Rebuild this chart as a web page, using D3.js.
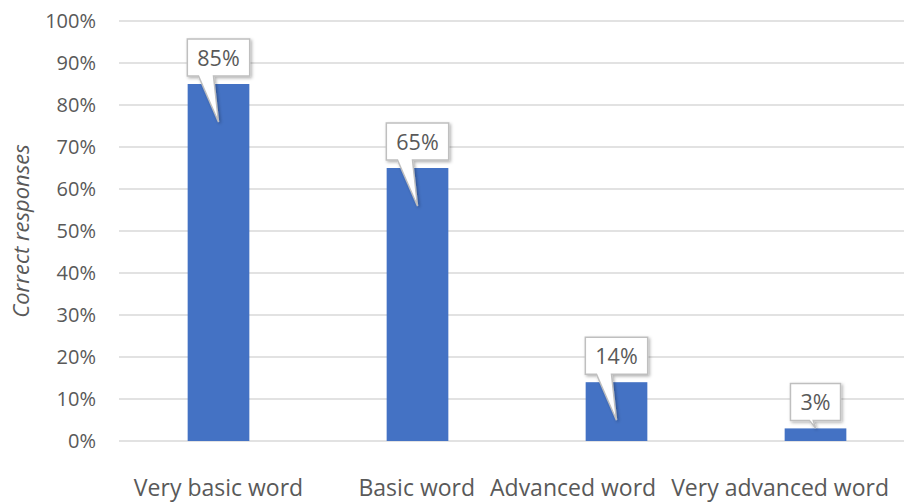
<!DOCTYPE html>
<html><head><meta charset="utf-8">
<script src="https://cdn.jsdelivr.net/npm/d3@7"></script>
<style>
html,body{margin:0;padding:0;background:#fff;}
svg{display:block;}
text{font-family:"Open Sans","Liberation Sans",sans-serif;fill:#595959;}
</style></head>
<body>
<svg id="chart" width="904" height="503"></svg>
<script>
const categories = ["Very basic word","Basic word","Advanced word","Very advanced word"];
const values = [0.85, 0.65, 0.14, 0.03];
const labels = ["85%","65%","14%","3%"];
const yTicks = [0,0.1,0.2,0.3,0.4,0.5,0.6,0.7,0.8,0.9,1.0];
const yTitle = "Correct responses";

const W = 904, H = 503;
const m = {left:119, right:-11, top:21, bottom:62};
const FONT = '"Open Sans","Liberation Sans",sans-serif';
const svg = d3.select("#chart");
const x = d3.scaleBand().domain(categories).range([m.left, W - m.right]).paddingInner(0.69).paddingOuter(0.345);
const y = d3.scaleLinear().domain([0,1]).range([H - m.bottom, m.top]);

// gridlines
svg.append("g").selectAll("line").data(yTicks).join("line")
  .attr("x1", m.left).attr("x2", W)
  .attr("y1", d => y(d)).attr("y2", d => y(d))
  .attr("stroke", "#d9d9d9").attr("stroke-width", 1.5);

// y axis labels
const yAxis = d3.axisLeft(y).tickValues(yTicks).tickFormat(d3.format(".0%")).tickSize(0).tickPadding(0);
const ya = svg.append("g").attr("transform", `translate(96,0)`).call(yAxis);
ya.select(".domain").remove();
ya.selectAll("text").attr("font-size", 20).attr("fill","#595959").style("font-family", FONT);

// axis title
svg.append("text").attr("transform", `translate(29,${(y(0)+y(1))/2}) rotate(-90)`)
  .attr("text-anchor","middle").attr("font-size",22).attr("font-style","italic").text(yTitle);

// bars
svg.append("g").selectAll("rect").data(values).join("rect")
  .attr("x", (d,i) => x(categories[i])).attr("width", x.bandwidth())
  .attr("y", d => y(d)).attr("height", d => y(0) - y(d))
  .attr("fill", "#4472c4");

// category labels, with overlap resolution
const catG = svg.append("g");
const catT = catG.selectAll("text").data(categories).join("text")
  .attr("y", 496).attr("text-anchor","middle").attr("font-size",23).text(d => d);
const widths = catT.nodes().map(n => n.getComputedTextLength());
let cx = categories.map(c => x(c) + x.bandwidth()/2);
const gap = 15, rightLimit = 889;
for (let it = 0; it < 300; it++) {
  if (cx[3] + widths[3]/2 > rightLimit) cx[3] = rightLimit - widths[3]/2;
  for (let i = 0; i < 3; i++) {
    const ov = (cx[i] + widths[i]/2 + gap) - (cx[i+1] - widths[i+1]/2);
    if (ov > 0) { cx[i] -= ov/2; cx[i+1] += ov/2; }
  }
}
catT.attr("x", (d,i) => cx[i]);

// callouts
const defs = svg.append("defs");
const f = defs.append("filter").attr("id","sh").attr("x","-30%").attr("y","-30%").attr("width","160%").attr("height","160%");
f.append("feDropShadow").attr("dx",1.5).attr("dy",1.5).attr("stdDeviation",1.5).attr("flood-color","#000").attr("flood-opacity",0.3);

const cg = svg.append("g");
values.forEach((v, i) => {
  const c = x(categories[i]) + x.bandwidth()/2;
  const top = y(v);
  const boxBottom = top - 8;
  const boxH = 37;
  const t = cg.append("text").attr("font-size",21.5).attr("text-anchor","middle").text(labels[i]);
  const tw = t.node().getComputedTextLength();
  const boxW = Math.min(x.bandwidth() + 2, tw + 20);
  const bx = c - boxW/2;
  const tipY = Math.min(top + 38, y(0) - 13);
  const dy = tipY - boxBottom;
  const lOff = Math.min(20, dy*0.8), wB = Math.min(15, dy*0.5);
  const p = [[bx, boxBottom - boxH],[bx+boxW, boxBottom - boxH],[bx+boxW, boxBottom],
             [c - lOff + wB, boxBottom],[c, tipY],[c - lOff, boxBottom],[bx, boxBottom]];
  cg.insert("path", "text").attr("d", "M" + p.map(q => q.join(",")).join("L") + "Z")
    .attr("fill","#fff").attr("stroke","#bfbfbf").attr("stroke-width",1.5).attr("filter","url(#sh)");
  t.attr("x", c).attr("y", boxBottom - boxH/2 + 8);
});
</script>
</body></html>
